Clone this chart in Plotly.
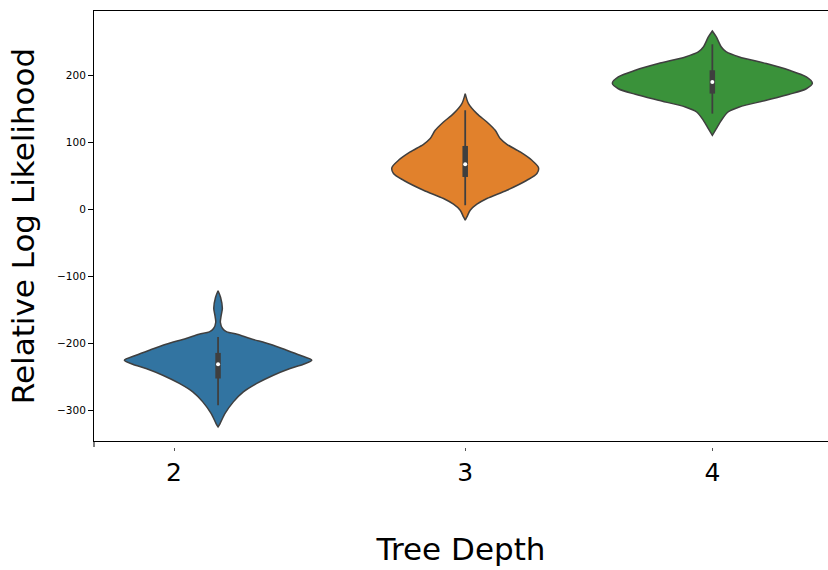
import plotly.graph_objects as go

# Tree depth categories and colours
depths = ["2", "3", "4"]
colors = ["#3274a1", "#e1812c", "#3a923a"]

# Kernel density profiles (log-likelihood level, relative density) for each depth
levels_d2 = [-121.6, -131.3, -147.8, -159.7, -168.7, -178.1, -183.1, -186.5, -193.0, -201.5,
             -210.4, -217.9, -225.4, -231.3, -237.8, -247.8, -260.1, -272.7, -287.6, -304.9,
             -319.9, -324.9]
density_d2 = [0, 0.025, 0.043, 0.03, 0.023, 0.045, 0.087, 0.19, 0.32, 0.52,
              0.687, 0.82, 0.937, 0.853, 0.72, 0.553, 0.387, 0.253, 0.153, 0.07,
              0.02, 0]

levels_d3 = [172.7, 157.8, 142.8, 130.3, 117.9, 105.5, 97.0, 85.5, 73.1, 62.2,
             53.3, 43.3, 28.4, 16.0, 7.5, -1.5, -11.5, -16.4]
density_d3 = [0, 0.033, 0.117, 0.217, 0.30, 0.35, 0.417, 0.55, 0.667, 0.733,
              0.717, 0.617, 0.417, 0.217, 0.117, 0.05, 0.017, 0]

levels_d4 = [266.1, 257.2, 242.2, 234.8, 227.3, 217.5, 207.5, 197.5, 188.1, 179.9,
             171.6, 162.7, 152.7, 145.2, 132.8, 120.4, 110.4]
density_d4 = [0, 0.04, 0.09, 0.14, 0.27, 0.54, 0.77, 0.94, 1.0, 0.94,
              0.77, 0.54, 0.27, 0.157, 0.09, 0.04, 0]

# Box summary per depth
whisker_low = [-292.5, 6.0, 142.8]
whisker_high = [-190.6, 147.8, 246.3]
quartile_1 = [-252.7, 48.2, 172.7]
quartile_3 = [-214.5, 94.5, 207.5]
medians = [-231.3, 67.2, 190.0]

profiles = [(levels_d2, density_d2), (levels_d3, density_d3), (levels_d4, density_d4)]

HALF_WIDTH = 0.4047  # category units for a relative density of 1
EDGE = "#3f3f3f"

fig = go.Figure()

for i, (lv, dens) in enumerate(profiles):
    right_x = [i + HALF_WIDTH * d for d in dens]
    left_x = [i - HALF_WIDTH * d for d in reversed(dens)]
    xs = right_x + left_x + [right_x[0]]
    ys = list(lv) + list(reversed(lv)) + [lv[0]]
    fig.add_trace(go.Scatter(
        x=xs, y=ys, mode="lines", fill="toself", fillcolor=colors[i],
        line=dict(color=EDGE, width=1.5, shape="spline", smoothing=0.8),
        hoverinfo="skip", showlegend=False,
    ))
    # whisker
    fig.add_trace(go.Scatter(
        x=[i, i], y=[whisker_low[i], whisker_high[i]], mode="lines",
        line=dict(color=EDGE, width=1.8), showlegend=False, hoverinfo="skip",
    ))
    # interquartile bar
    fig.add_trace(go.Scatter(
        x=[i, i], y=[quartile_1[i], quartile_3[i]], mode="lines",
        line=dict(color=EDGE, width=5.5), showlegend=False, hoverinfo="skip",
    ))
    # median
    fig.add_trace(go.Scatter(
        x=[i], y=[medians[i]], mode="markers",
        marker=dict(color="white", size=4, line=dict(width=0)),
        showlegend=False, hoverinfo="skip",
    ))

# tick placement along the depth axis
tick_pos = [-0.178, 1, 2]

fig.update_layout(
    width=828, height=570,
    margin=dict(l=94, r=0, t=11, b=123),
    paper_bgcolor="white", plot_bgcolor="white",
    font=dict(family="DejaVu Sans", color="black"),
    xaxis=dict(
        range=[-0.502, 2.468], showgrid=False, zeroline=False,
        showline=True, linecolor="black", linewidth=1, mirror=True,
        showticklabels=False, ticks="",
    ),
    xaxis2=dict(
        overlaying="x", matches="x", anchor="free", position=0,
        showgrid=False, zeroline=False, showline=False,
        ticks="outside", ticklen=3, tickwidth=1, tickcolor="#555555",
        tickvals=tick_pos, ticktext=depths,
        tickfont=dict(size=25, family="DejaVu Sans", color="black"),
        title=dict(text="Tree Depth", font=dict(size=31, family="DejaVu Sans"), standoff=52),
    ),
    yaxis=dict(
        range=[-346, 296], domain=[6 / 436, 1],
        showgrid=False, zeroline=False,
        showline=True, linecolor="black", linewidth=1,
        ticks="outside", ticklen=5, tickwidth=1, tickcolor="black",
        tickvals=[-300, -200, -100, 0, 100, 200],
        ticktext=["\u2212300", "\u2212200", "\u2212100", "0", "100", "200"],
        tickfont=dict(size=10.5, family="DejaVu Sans", color="black"),
        title=dict(text="Relative Log Likelihood", font=dict(size=31, family="DejaVu Sans"), standoff=13),
    ),
    shapes=[dict(type="line", xref="paper", yref="paper", x0=0, x1=0, y0=0, y1=6 / 436,
                 line=dict(color="black", width=1))],
)

# dummy trace to activate the tick axis
fig.add_trace(go.Scatter(x=[1], y=[0], xaxis="x2", mode="markers",
                         marker=dict(opacity=0), showlegend=False, hoverinfo="skip"))

fig.write_html("out.html")
